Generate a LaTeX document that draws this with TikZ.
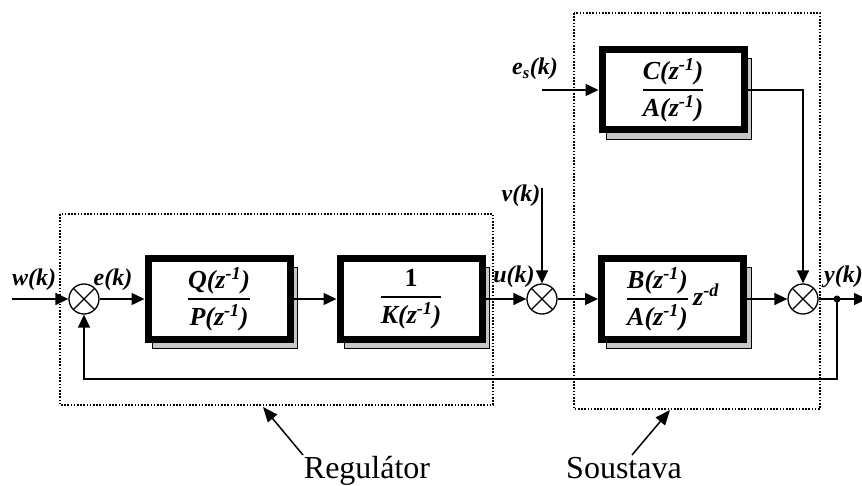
\documentclass[tikz,border=0pt]{standalone}
\usepackage{amsmath}
\usepackage{fontspec}
\setmainfont{Liberation Serif}
\usetikzlibrary{arrows.meta,backgrounds,calc}
\newcommand\zinv{z\textsuperscript{-1}}
\newcommand\frf{\fontsize{26}{30}\selectfont\bfseries\itshape}
\newcommand\myfrac[2]{$\genfrac{}{}{1.5pt}{0}{\mbox{\frf #1}}{\mbox{\frf #2}}$}
\begin{document}
\begin{tikzpicture}[x=1pt,y=-1pt,
  blk/.style={draw, line width=7pt, fill=white, minimum width=142pt, minimum height=80pt, inner sep=0pt, font=\fontsize{26}{30}\selectfont},
  sumn/.style={circle, draw, line width=1.3pt, minimum size=30pt, inner sep=0pt, fill=white,
    path picture={\draw[line width=1.1pt] (path picture bounding box.north west) -- (path picture bounding box.south east)
      (path picture bounding box.north east) -- (path picture bounding box.south west);}},
  sumblack/.style={sumn, path picture={\fill (path picture bounding box.center) -- (path picture bounding box.south west) -- (path picture bounding box.south east) -- cycle;
      \draw[line width=1.1pt] (path picture bounding box.north west) -- (path picture bounding box.south east)
      (path picture bounding box.north east) -- (path picture bounding box.south west);}},
  sig/.style={line width=1.5pt, -{Triangle[length=13pt,width=12pt]}},
  lab/.style={font=\fontsize{24}{28}\selectfont\bfseries\itshape, inner sep=0pt},
  big/.style={font=\fontsize{32}{36}\selectfont, inner sep=0pt},
  dotbox/.style={line width=1.4pt, dash pattern=on 1.6pt off 1.6pt},
  shad/.style={fill=gray!45, draw=black, line width=0.8pt}
]
\useasboundingbox (0,0) rectangle (862,486);
\clip (0,0) rectangle (862,486);

% dotted boxes
\draw[dotbox] (60,214) rectangle (493,405);
\draw[dotbox] (574,13) rectangle (820,409);

% blocks
\node[blk] (QP) at (219,299) {\myfrac{Q(\zinv)}{P(\zinv)}};
\node[blk] (K) at (411,299) {\myfrac{\upshape 1}{K(\zinv)}};
\node[blk] (BA) at (672.5,299) {\myfrac{B(\zinv)}{A(\zinv)}\mbox{\frf\,z\textsuperscript{-d}}};
\node[blk] (CA) at (673,90) {\myfrac{C(\zinv)}{A(\zinv)}};

\begin{scope}[on background layer]
\foreach \b in {QP,K,BA,CA}{
  \draw[shad] ($(\b.north west)+(8,12)$) rectangle ($(\b.south east)+(4,6)$);
}
\end{scope}

% summing junctions
\node[sumblack] (S1) at (84,299) {};
\node[sumn] (S2) at (542,299) {};
\node[sumn] (S3) at (803,299) {};

% coordinates
\coordinate (win) at (12,299);
\coordinate (vin) at (542,188);
\coordinate (esin) at (542,90);
\coordinate (br) at (837,299);
\coordinate (yout) at (867,299);
\coordinate (fb1) at (837,379);
\coordinate (fb2) at (84,379);
\coordinate (ca1) at (803,90);

% connectors
\draw[sig] (win) -- (S1);
\draw[sig] (S1) -- (QP);
\draw[sig] (QP) -- (K);
\draw[sig] (K) -- (S2);
\draw[sig] (vin) -- (S2);
\draw[sig] (S2) -- (BA);
\draw[sig] (BA) -- (S3);
\draw[sig] (esin) -- (CA);
\draw[sig] (CA.east |- ca1) -- (ca1) -- (S3);
\draw[sig] (S3) -- (yout);
\draw[sig] (br) -- (fb1) -- (fb2) -- (S1);
\fill (br) circle (3.5pt);

% labels
\node[lab] (lw) at (34,280) {w(k)};
\node[lab] (le) at (113,280) {e(k)};
\node[lab] (lu) at (514,277) {u(k)};
\node[lab] (lv) at (521,196) {v(k)};
\node[lab,anchor=west] (ly) at (824,277) {y(k)};
\node[lab] (les) at (535,69) {e\textsubscript{s}(k)};

% bottom labels
\node[big,anchor=base] (reg) at (367,478) {Regulátor};
\node[big,anchor=base] (sou) at (624,478) {Soustava};
\coordinate (regtail) at (303,455);
\coordinate (regtip) at (263,407);
\coordinate (soutail) at (632,455);
\coordinate (soutip) at (670,410);
\draw[line width=1.5pt, -{Triangle[length=15pt,width=12pt]}] (regtail) -- (regtip);
\draw[line width=1.5pt, -{Triangle[length=15pt,width=12pt]}] (soutail) -- (soutip);
\end{tikzpicture}
\end{document}
